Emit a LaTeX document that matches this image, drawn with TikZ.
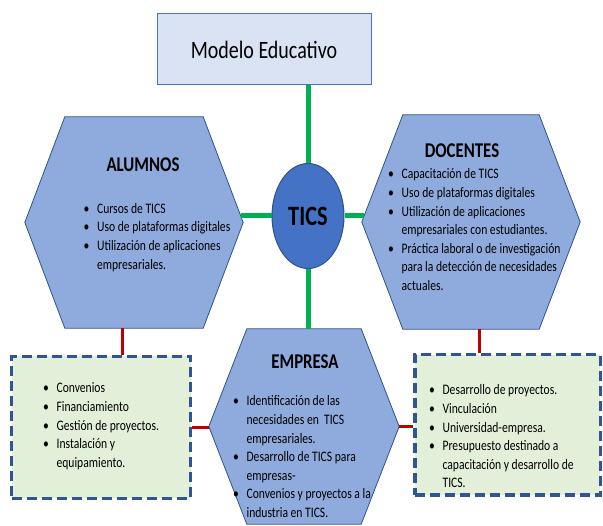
\documentclass[tikz,border=0pt]{standalone}
\usepackage{fontspec}
\setmainfont{Carlito}[FakeStretch=0.8]
\usetikzlibrary{positioning,shapes}
\definecolor{hexblue}{HTML}{8FAADC}
\definecolor{hexline}{HTML}{2F528F}
\definecolor{ticsblue}{HTML}{4472C4}
\definecolor{boxblue}{HTML}{DAE3F3}
\definecolor{boxgreen}{HTML}{E2F0D9}
\definecolor{dashblue}{HTML}{2F5597}
\definecolor{linkgreen}{HTML}{00B050}
\definecolor{linkred}{HTML}{C00000}
\tikzstyle{hexa}=[rectangle,inner sep=0pt]
\tikzstyle{hexdraw}=[draw=hexline,fill=hexblue,line width=0.8pt]
\tikzstyle{modelo}=[rectangle,draw=ticsblue,fill=boxblue,line width=1pt,
minimum width=214pt,minimum height=71pt,font=\fontsize{25}{30}\selectfont]
\tikzstyle{tics}=[ellipse,draw=hexline,fill=ticsblue,line width=1pt,inner sep=0pt,
minimum width=72pt,minimum height=105pt,font=\fontsize{28}{32}\selectfont\bfseries]
\tikzstyle{greenbox}=[rectangle,draw=dashblue,fill=boxgreen,line width=3.5pt,
dash pattern=on 10pt off 5pt]
\tikzstyle{title}=[inner sep=0pt,font=\fontsize{21}{25}\selectfont\bfseries]
\tikzstyle{lista}=[inner sep=0pt,anchor=base west,font=\fontsize{14.5}{18.6}\selectfont]
\tikzstyle{glink}=[draw=linkgreen,line width=5pt]
\tikzstyle{rlink}=[draw=linkred,line width=3pt]
\newcommand{\hexpath}[2]{\path[hexdraw] (#1.west) -- ([xshift=#2]#1.north west)
  -- ([xshift=-#2]#1.north east) -- (#1.east) -- ([xshift=-#2]#1.south east)
  -- ([xshift=#2]#1.south west) -- cycle;}
\newcommand{\bl}{\makebox[13.4pt][l]{\textbullet}}

\begin{document}
\begin{tikzpicture}[x=1pt,y=-1pt]
            \useasboundingbox (0,0) rectangle (603,526);

            % CENTER PART

            \node[modelo] (modelo) at (264,49.5) {Modelo Educativo};
            \node[tics] (tics) at (308,216) {TICS};

            % ALUMNOS PART

            \node[hexa,minimum width=218pt,minimum height=211pt] (alumnos) at (134,222.5) {};
            \hexpath{alumnos}{40pt}
            \node[title] (atit) at (143,165) {ALUMNOS};
            \node[lista] (alist) at (83.5,213.3) {\begin{tabular}[t]{@{}l@{}l@{}}
              \bl & Cursos de TICS\\
              \bl & Uso de plataformas digitales\\
              \bl & Utilización de aplicaciones\\
                  & empresariales.
            \end{tabular}};

            % DOCENTES PART

            \node[hexa,minimum width=218pt,minimum height=214pt] (docentes) at (471,222) {};
            \hexpath{docentes}{41pt}
            \node[title] (dtit) at (462,151) {DOCENTES};
            \node[lista] (dlist) at (388,179) {\begin{tabular}[t]{@{}l@{}l@{}}
              \bl & Capacitación de TICS\\
              \bl & Uso de plataformas digitales\\
              \bl & Utilización de aplicaciones\\
                  & empresariales con estudiantes.\\
              \bl & Práctica laboral o de investigación\\
                  & para la detección de necesidades\\
                  & actuales.
            \end{tabular}};

            % EMPRESA PART

            \node[hexa,minimum width=190pt,minimum height=195pt] (empresa) at (304,426.5) {};
            \hexpath{empresa}{38pt}
            \node[title] (etit) at (305,361.7) {EMPRESA};
            \node[lista] (elist) at (233,406) {\begin{tabular}[t]{@{}l@{}l@{}}
              \bl & Identificación de las\\
                  & necesidades en\ \ TICS\\
                  & empresariales.\\
              \bl & Desarrollo de TICS para\\
                  & empresas-\\
              \bl & Convenios y proyectos a la\\
                  & industria en TICS.
            \end{tabular}};

            % GREEN BOXES

            \node[greenbox,minimum width=179pt,minimum height=142pt] (conv) at (101,427.5) {};
            \node[lista] (clist) at (43,393) {\begin{tabular}[t]{@{}l@{}l@{}}
              \bl & Convenios\\
              \bl & Financiamiento\\
              \bl & Gestión de proyectos.\\
              \bl & Instalación y\\
                  & equipamiento.
            \end{tabular}};

            \node[greenbox,minimum width=185.5pt,minimum height=140.5pt] (desa) at (507.5,425) {};
            \node[lista] (rlist) at (429,395) {\begin{tabular}[t]{@{}l@{}l@{}}
              \bl & Desarrollo de proyectos.\\
              \bl & Vinculación\\
              \bl & Universidad-empresa.\\
              \bl & Presupuesto destinado a\\
                  & capacitación y desarrollo de\\
                  & TICS.
            \end{tabular}};

            % Connections

            \path[glink] (tics.north) -- (tics.north |- modelo.south);
            \path[glink] (tics.south) -- (tics.south |- empresa.north);
            \path[glink,shorten >=-2pt] (tics.west) -- (tics.west -| alumnos.east);
            \path[glink,shorten >=-2pt] (tics.east) -- (tics.east -| docentes.west);

            \path[rlink] ([xshift=-12pt]alumnos.south) -- ([xshift=-12pt]alumnos.south |- conv.north);
            \path[rlink] ([xshift=8pt]docentes.south) -- ([xshift=8pt]docentes.south |- desa.north);
            \path[rlink] (conv.east) -- (conv.east -| empresa.west);
            \path[rlink] (empresa.east) -- (empresa.east -| desa.west);

\end{tikzpicture}
\end{document}
